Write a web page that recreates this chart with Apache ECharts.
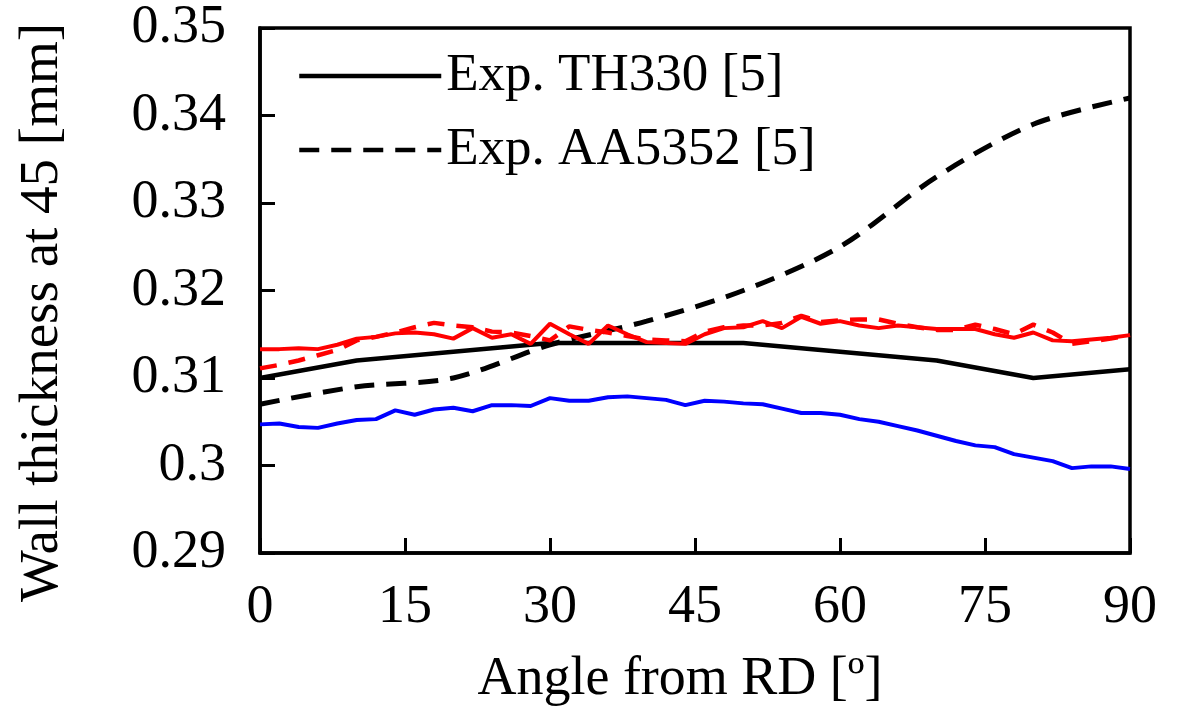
<!DOCTYPE html>
<html>
<head>
<meta charset="utf-8">
<script src="https://cdn.jsdelivr.net/npm/echarts@6/dist/echarts.min.js"></script>
<style>
html,body{margin:0;padding:0;background:#fff;}
#chart{width:1178px;height:712px;}
</style>
</head>
<body>
<div id="chart"></div>
<script>
// ---- data ----
const xTicks = [0, 15, 30, 45, 60, 75, 90];
const yTicks = [0.29, 0.3, 0.31, 0.32, 0.33, 0.34, 0.35];

const expAngles = [0, 10, 20, 30, 40, 50, 60, 70, 80, 90];
const expTH330 = [0.310, 0.312, 0.313, 0.314, 0.314, 0.314, 0.313, 0.312, 0.310, 0.311];
const expAA5352 = [0.307, 0.309, 0.310, 0.3138, 0.3165, 0.320, 0.325, 0.333, 0.339, 0.342];

const simAngles = [0,2,4,6,8,10,12,14,16,18,20,22,24,26,28,30,32,34,36,38,40,42,44,46,48,50,52,54,56,58,60,62,64,66,68,70,72,74,76,78,80,82,84,86,88,90];
const simBlue = [0.3047,0.3048,0.3044,0.3043,0.3048,0.3052,0.3053,0.3063,0.3058,0.3064,0.3066,0.3062,0.3069,0.3069,0.3068,0.3077,0.3074,0.3074,0.3078,0.3079,0.3077,0.3075,0.3069,0.3074,0.3073,0.3071,0.3070,0.3065,0.3060,0.3060,0.3058,0.3053,0.3050,0.3045,0.3040,0.3034,0.3028,0.3023,0.3021,0.3013,0.3009,0.3005,0.2997,0.2999,0.2999,0.2996];
const simRedSolid = [0.3133,0.3133,0.3134,0.3133,0.3138,0.3145,0.3147,0.3151,0.3152,0.3150,0.3145,0.3157,0.3146,0.3150,0.3139,0.3162,0.3150,0.3139,0.3160,0.3150,0.3141,0.3140,0.3139,0.3150,0.3157,0.3158,0.3165,0.3157,0.3170,0.3162,0.3165,0.3160,0.3157,0.3160,0.3158,0.3156,0.3156,0.3156,0.3150,0.3146,0.3152,0.3143,0.3142,0.3144,0.3146,0.3149];
const simRedDashed = [0.3111,0.3115,0.3120,0.3126,0.3132,0.3143,0.3147,0.3152,0.3158,0.3163,0.3160,0.3158,0.3153,0.3152,0.3148,0.3143,0.3159,0.3155,0.3152,0.3148,0.3144,0.3143,0.3142,0.3153,0.3158,0.3160,0.3160,0.3163,0.3171,0.3164,0.3166,0.3167,0.3167,0.3162,0.3158,0.3155,0.3155,0.3161,0.3156,0.3150,0.3161,0.3152,0.3139,0.3142,0.3145,0.3149];

const seriesNames = ['Exp. TH330 [5]', 'Exp. AA5352 [5]'];
const xTitle = 'Angle from RD [º]';
const yTitle = 'Wall thickness at 45 [mm]';

function pairs(xs, ys){ return xs.map((x,i)=>[x, ys[i]]); }

const FONT = 'Liberation Serif';
const FS = 54;
const chart = echarts.init(document.getElementById('chart'), null, {renderer:'canvas'});
chart.setOption({
  animation: false,
  backgroundColor: '#fff',
  grid: {left: 260, right: 48, top: 28, bottom: 157, show: true, borderColor: '#000', borderWidth: 3.5, backgroundColor: 'transparent'},
  legend: {
    data: seriesNames,
    orient: 'vertical',
    left: 292, top: 40,
    itemWidth: 142, itemHeight: 20, itemGap: 12,
    itemStyle: {opacity: 0},
    lineStyle: {width: 4.5},
    textStyle: {fontFamily: FONT, fontSize: 53, color: '#000', lineHeight: 62}
  },
  xAxis: {
    type: 'value', min: 0, max: 90, interval: 15,
    name: xTitle, nameLocation: 'middle', nameGap: 100,
    nameTextStyle: {fontFamily: FONT, fontSize: FS, color: '#000', padding: [0, 30, 0, 0]},
    axisLine: {show: true, lineStyle: {color: '#000', width: 3.5}},
    axisTick: {show: true, inside: true, length: 15, lineStyle: {color: '#000', width: 3}},
    axisLabel: {fontFamily: FONT, fontSize: FS, color: '#000', margin: 28,
      formatter: v => xTicks.includes(v) ? String(v) : ''},
    splitLine: {show: false}
  },
  yAxis: {
    type: 'value', min: 0.29, max: 0.35, interval: 0.01,
    name: yTitle, nameLocation: 'middle', nameGap: 190, nameRotate: 90,
    nameTextStyle: {fontFamily: FONT, fontSize: 55, color: '#000', padding: [0, 44, 0, 0]},
    axisLine: {show: true, lineStyle: {color: '#000', width: 3.5}},
    axisTick: {show: true, inside: true, length: 15, lineStyle: {color: '#000', width: 3}},
    axisLabel: {fontFamily: FONT, fontSize: FS, color: '#000', margin: 34,
      formatter: v => { const t = yTicks.find(y => Math.abs(y - v) < 1e-9); return t === undefined ? '' : String(t); }},
    splitLine: {show: false}
  },
  series: [
    {name: seriesNames[0], type: 'line', data: pairs(expAngles, expTH330), symbol: 'none',
      lineStyle: {color: '#000', width: 4.5}, itemStyle: {color: '#000'}, z: 2},
    {name: seriesNames[1], type: 'line', data: pairs(expAngles, expAA5352), symbol: 'none', smooth: 0.3,
      lineStyle: {color: '#000', width: 5, type: [20, 12]}, itemStyle: {color: '#000'}, z: 2},
    {name: 'blue', type: 'line', data: pairs(simAngles, simBlue), symbol: 'none',
      lineStyle: {color: '#0000ff', width: 4}, itemStyle: {color: '#0000ff'}, z: 3},
    {name: 'red dashed', type: 'line', data: pairs(simAngles, simRedDashed), symbol: 'none',
      lineStyle: {color: '#ff0000', width: 4.5, type: [17, 12]}, itemStyle: {color: '#ff0000'}, z: 3},
    {name: 'red solid', type: 'line', data: pairs(simAngles, simRedSolid), symbol: 'none',
      lineStyle: {color: '#ff0000', width: 4}, itemStyle: {color: '#ff0000'}, z: 4}
  ]
});
</script>
</body>
</html>
